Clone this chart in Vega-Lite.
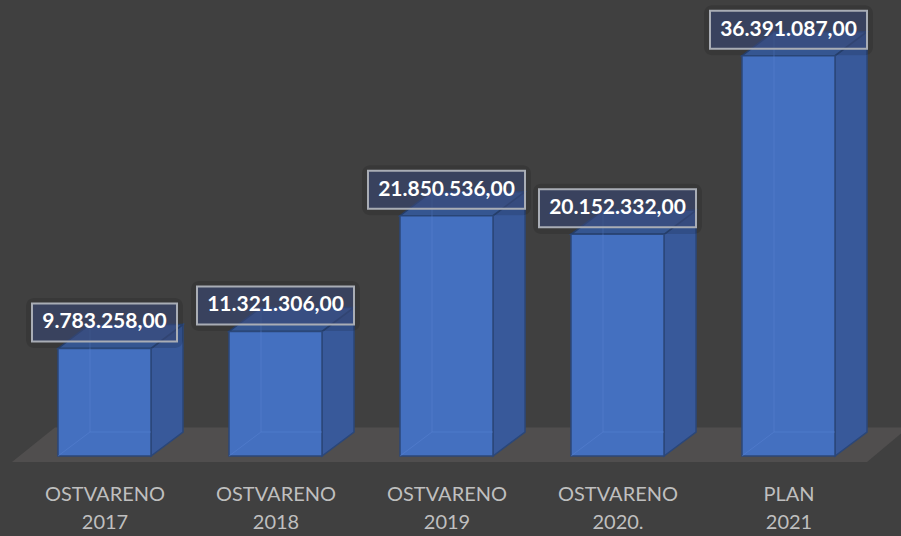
{
  "$schema": "https://vega.github.io/schema/vega-lite/v6.json",
  "width": 901,
  "height": 462,
  "autosize": {"type": "none"},
  "padding": {"left": 0, "top": 0, "right": 0, "bottom": 74},
  "background": "#404040",
  "config": {
    "view": {"stroke": null},
    "axisX": {"grid": false, "domain": false, "ticks": false, "labelFont": "Lato", "labelFontSize": 20, "labelColor": "#bfbfbf", "labelPadding": 22, "labelLineHeight": 28, "labelFlush": false, "labelOverlap": false}
  },
  "data": {
    "values": [
      {"cat": "OSTVARENO 2017", "i": 0, "value": 9783258},
      {"cat": "OSTVARENO 2018", "i": 1, "value": 11321306},
      {"cat": "OSTVARENO 2019", "i": 2, "value": 21850536},
      {"cat": "OSTVARENO 2020.", "i": 3, "value": 20152332},
      {"cat": "PLAN 2021", "i": 4, "value": 36391087}
    ]
  },
  "transform": [
    {"calculate": "datum.i - 0.27193", "as": "xl"},
    {"calculate": "datum.i + 0.27193", "as": "xr"},
    {"calculate": "datum.i - 0.27193 + 0.18713", "as": "xlb"},
    {"calculate": "datum.value + 2181818", "as": "vb"},
    {"calculate": "0", "as": "zero"},
    {"calculate": "2181818", "as": "dyv"},
    {"calculate": "replace(replace(replace(format(datum.value, ',.2f'), regexp(',', 'g'), '#'), regexp('[.]', 'g'), ','), regexp('#', 'g'), '.')", "as": "lab"},
    {"calculate": "(12*length(datum.lab)+1)/342", "as": "bhw"},
    {"calculate": "datum.i - datum.bhw", "as": "bx1"},
    {"calculate": "datum.i + datum.bhw", "as": "bx2"},
    {"calculate": "datum.value + 636364", "as": "by1"},
    {"calculate": "datum.value + 4090909", "as": "by2"},
    {"calculate": "datum.bx1 - 0.035", "as": "sx1"},
    {"calculate": "datum.bx2 + 0.035", "as": "sx2"},
    {"calculate": "datum.by1 - 600000", "as": "sy1"},
    {"calculate": "datum.by2 + 500000", "as": "sy2b"},
    {"calculate": "datum.value + 2363636", "as": "ty"}
  ],
  "layer": [
    {
      "transform": [
        {"filter": "datum.i == 0 || datum.i == 4"},
        {"calculate": "datum.i == 0 ? -545455 : 2600000", "as": "fy"},
        {"calculate": "datum.i == 0 ? -0.541 : -0.29", "as": "fx1"},
        {"calculate": "datum.i == 0 ? 4.459 : 4.70", "as": "fx2"}
      ],
      "mark": {"type": "area", "orient": "horizontal", "color": "#504e4e", "clip": true},
      "encoding": {
        "y": {"field": "fy", "type": "quantitative", "scale": {"domain": [-545455, 41454545], "nice": false, "zero": false}, "axis": null},
        "x": {"field": "fx1", "type": "quantitative", "scale": {"domain": [-0.61111, 4.65789], "nice": false, "zero": false},
          "axis": {"title": null, "values": [0, 1, 2, 3, 4],
            "labelExpr": "datum.value == 0 ? ['OSTVARENO','2017'] : datum.value == 1 ? ['OSTVARENO','2018'] : datum.value == 2 ? ['OSTVARENO','2019'] : datum.value == 3 ? ['OSTVARENO','2020.'] : ['PLAN','2021']"}},
        "x2": {"field": "fx2"}
      }
    },
    {
      "transform": [
        {"calculate": "[0,1]", "as": "k"},
        {"flatten": ["k"]},
        {"calculate": "datum.xr + datum.k*0.18713", "as": "sx"},
        {"calculate": "datum.value + datum.k*2181818", "as": "sy"},
        {"calculate": "datum.k*2181818", "as": "sy2"}
      ],
      "mark": {"type": "area", "orient": "vertical", "color": "#38599a", "stroke": "#2b4779", "strokeWidth": 1.5},
      "encoding": {
        "x": {"field": "sx", "type": "quantitative", "title": null},
        "y": {"field": "sy", "type": "quantitative", "axis": null},
        "y2": {"field": "sy2"},
        "detail": {"field": "cat", "type": "nominal"}
      }
    },
    {
      "transform": [
        {"calculate": "[0,1]", "as": "k"},
        {"flatten": ["k"]},
        {"calculate": "datum.xl + datum.k*0.18713", "as": "tx1"},
        {"calculate": "datum.xr + datum.k*0.18713", "as": "tx2"},
        {"calculate": "datum.value + datum.k*2181818", "as": "tyy"}
      ],
      "mark": {"type": "area", "orient": "horizontal", "color": "#3d62a6", "stroke": "#2b4779", "strokeWidth": 1.5},
      "encoding": {
        "y": {"field": "tyy", "type": "quantitative", "axis": null},
        "x": {"field": "tx1", "type": "quantitative", "title": null},
        "x2": {"field": "tx2"},
        "detail": {"field": "cat", "type": "nominal"}
      }
    },
    {
      "mark": {"type": "rect", "color": "#4470c0", "stroke": "#2b4779", "strokeWidth": 1.5},
      "encoding": {
        "x": {"field": "xl", "type": "quantitative", "title": null},
        "x2": {"field": "xr"},
        "y": {"field": "value", "type": "quantitative", "axis": null},
        "y2": {"field": "zero"}
      }
    },
    {
      "mark": {"type": "rule", "color": "#5a86d4", "opacity": 0.45, "strokeWidth": 1},
      "encoding": {
        "x": {"field": "xlb", "type": "quantitative", "title": null},
        "y": {"field": "dyv", "type": "quantitative", "axis": null},
        "y2": {"field": "vb"}
      }
    },
    {
      "mark": {"type": "rule", "color": "#5a86d4", "opacity": 0.45, "strokeWidth": 1},
      "encoding": {
        "x": {"field": "xlb", "type": "quantitative", "title": null},
        "x2": {"field": "xr"},
        "y": {"field": "dyv", "type": "quantitative", "axis": null}
      }
    },
    {
      "mark": {"type": "rule", "color": "#5a86d4", "opacity": 0.45, "strokeWidth": 1},
      "encoding": {
        "x": {"field": "xl", "type": "quantitative", "title": null},
        "x2": {"field": "xlb"},
        "y": {"field": "zero", "type": "quantitative", "axis": null},
        "y2": {"field": "dyv"}
      }
    },
    {
      "mark": {"type": "rect", "fill": "#000000", "fillOpacity": 0.12, "cornerRadius": 8},
      "encoding": {
        "x": {"field": "sx1", "type": "quantitative", "title": null},
        "x2": {"field": "sx2"},
        "y": {"field": "sy1", "type": "quantitative", "axis": null},
        "y2": {"field": "sy2b"}
      }
    },
    {
      "mark": {"type": "rect", "fill": "#3a4a78", "fillOpacity": 0.6, "stroke": "#a9adb5", "strokeWidth": 2},
      "encoding": {
        "x": {"field": "bx1", "type": "quantitative", "title": null},
        "x2": {"field": "bx2"},
        "y": {"field": "by1", "type": "quantitative", "axis": null},
        "y2": {"field": "by2"}
      }
    },
    {
      "mark": {"type": "text", "font": "Lato", "fontSize": 21, "fontWeight": "bold", "color": "#ffffff", "baseline": "middle", "align": "center"},
      "encoding": {
        "x": {"field": "i", "type": "quantitative", "title": null},
        "y": {"field": "ty", "type": "quantitative", "axis": null},
        "text": {"field": "lab", "type": "nominal"}
      }
    }
  ]
}
